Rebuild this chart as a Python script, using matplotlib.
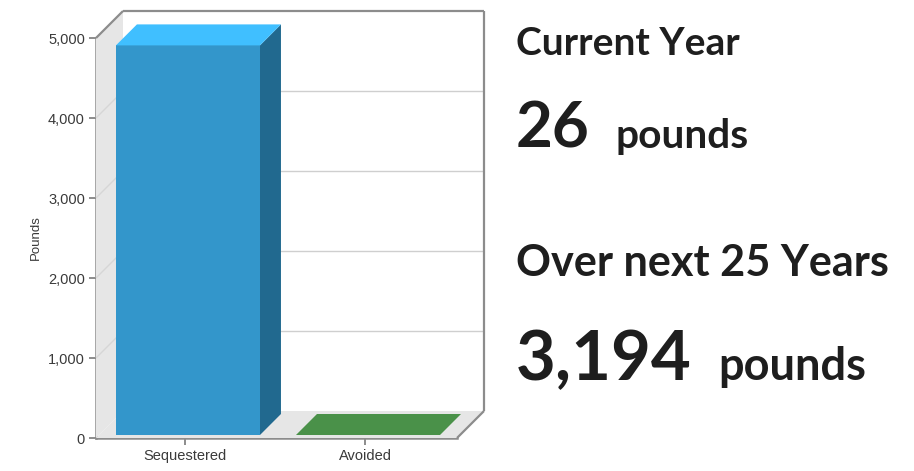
import matplotlib
matplotlib.use("Agg")
import matplotlib.pyplot as plt
from matplotlib.patches import Polygon
from matplotlib.lines import Line2D
from matplotlib.transforms import IdentityTransform

# --- data -----------------------------------------------------------------
categories = ["Sequestered", "Avoided"]
pounds = [4870, 0]
y_ticks = [0, 1000, 2000, 3000, 4000, 5000]
y_tick_labels = ["0", "1,000", "2,000", "3,000", "4,000", "5,000"]
y_label = "Pounds"

current_year_title = "Current Year"
current_year_value = "26"
next_years_title = "Over next 25 Years"
next_years_value = "3,194"
unit_text = "pounds"

# --- styling ----------------------------------------------------------------
face_colors = ["#3396cb", "#4a9149"]
top_colors = ["#40bfff", "#4a9149"]
side_colors = ["#21698f", "#33693a"]
WALL = "#e6e6e6"
FRAME = "#8c8c8c"
GRID = "#cfcfcf"
TEXT_DARK = "#1e1e1e"

W, H, DPI = 914, 471, 100
fig = plt.figure(figsize=(W / DPI, H / DPI), dpi=DPI)
fig.patch.set_facecolor("white")

ax = fig.add_axes([96 / W, 33 / H, 361 / W, 400 / H])
ax.set_xlim(-0.494, 1.511)
ax.set_ylim(y_ticks[0], y_ticks[-1])
ax.patch.set_visible(False)

DEPTH = 27      # pixel depth of the box
BAR_Z0, BAR_Z1 = 3, 24
BAR_W = 0.8


def px(x, y, z):
    """Data point on the front plane pushed back by z pixels."""
    dx, dy = ax.transData.transform((x, y))
    return (dx + z, dy + z)


def poly(points, color, zorder, lw=0.0):
    p = Polygon([px(*pt) for pt in points], closed=True, facecolor=color,
                edgecolor=color, linewidth=lw, transform=IdentityTransform(),
                clip_on=False, zorder=zorder)
    fig.add_artist(p)


def seg(a, b, color, lw, zorder):
    (xa, ya), (xb, yb) = px(*a), px(*b)
    fig.add_artist(Line2D([xa, xb], [ya, yb], color=color, linewidth=lw,
                          transform=IdentityTransform(), clip_on=False,
                          zorder=zorder, solid_capstyle="butt"))


x0, x1 = ax.get_xlim()
y0, y1 = ax.get_ylim()

# walls and floor
poly([(x0, y0, 0), (x0, y1, 0), (x0, y1, DEPTH), (x0, y0, DEPTH)], WALL, 0.5)
poly([(x0, y0, 0), (x1, y0, 0), (x1, y0, DEPTH), (x0, y0, DEPTH)], WALL, 0.5)
poly([(x0, y0, DEPTH), (x1, y0, DEPTH), (x1, y1, DEPTH), (x0, y1, DEPTH)],
     "white", 0.6)

# grid lines on the back wall and the side wall
for t in y_ticks[1:-1]:
    seg((x0, t, DEPTH), (x1, t, DEPTH), GRID, 1.0, 0.7)
    seg((x0, t, 0), (x0, t, DEPTH), "#d6d6d6", 1.0, 0.7)

# box frame
seg((x0, y1, DEPTH), (x1, y1, DEPTH), FRAME, 1.6, 0.8)
seg((x1, y1, DEPTH), (x1, y0, DEPTH), FRAME, 1.6, 0.8)
seg((x0, y1, 0), (x0, y1, DEPTH), FRAME, 1.6, 0.8)
seg((x1, y0, 0), (x1, y0, DEPTH), FRAME, 1.6, 0.8)

# 3D bars
for i, v in enumerate(pounds):
    xl, xr = i - BAR_W / 2, i + BAR_W / 2
    poly([(xr, 0, BAR_Z0), (xr, 0, BAR_Z1), (xr, v, BAR_Z1), (xr, v, BAR_Z0)],
         side_colors[i], 1.0)
    poly([(xl, 0, BAR_Z0), (xr, 0, BAR_Z0), (xr, v, BAR_Z0), (xl, v, BAR_Z0)],
         face_colors[i], 1.1)
    poly([(xl, v, BAR_Z0), (xr, v, BAR_Z0), (xr, v, BAR_Z1), (xl, v, BAR_Z1)],
         top_colors[i], 1.2)

# axes: front spines, ticks and labels
for side in ("top", "right"):
    ax.spines[side].set_visible(False)
for side in ("left", "bottom"):
    ax.spines[side].set_color(FRAME)
    ax.spines[side].set_linewidth(1.8)
    ax.spines[side].set_zorder(3)

ax.set_yticks(y_ticks, y_tick_labels)
ax.set_xticks(range(len(categories)), categories)
ax.tick_params(axis="both", direction="out", length=5, width=1.4,
               color=FRAME, labelcolor="#3a3a3a", labelsize=10.5, pad=3)
for lab in ax.get_xticklabels() + ax.get_yticklabels():
    lab.set_family("Liberation Sans")
ax.set_ylabel(y_label, fontsize=9.5, family="Liberation Sans", color="#3a3a3a")
ax.yaxis.set_label_coords(-0.1496, 0.5)

# summary text on the right
renderer = fig.canvas.get_renderer()


def fitted_text(x, baseline, s, width, size):
    t = fig.text(x / W, 1 - baseline / H, s, family="Lato", weight="bold",
                 fontsize=size, color=TEXT_DARK, va="baseline", ha="left")
    w = t.get_window_extent(renderer).width
    t.set_fontsize(size * width / w)
    return t


fitted_text(516, 55, current_year_title, 224, 28)
fitted_text(516, 148, current_year_value, 74, 50)
fitted_text(616, 148, unit_text, 133, 30)
fitted_text(516, 276, next_years_title, 374, 28)
fitted_text(516, 380, next_years_value, 176, 50)
fitted_text(718, 380, unit_text, 148, 32)

fig.savefig("out.png", dpi=DPI)
